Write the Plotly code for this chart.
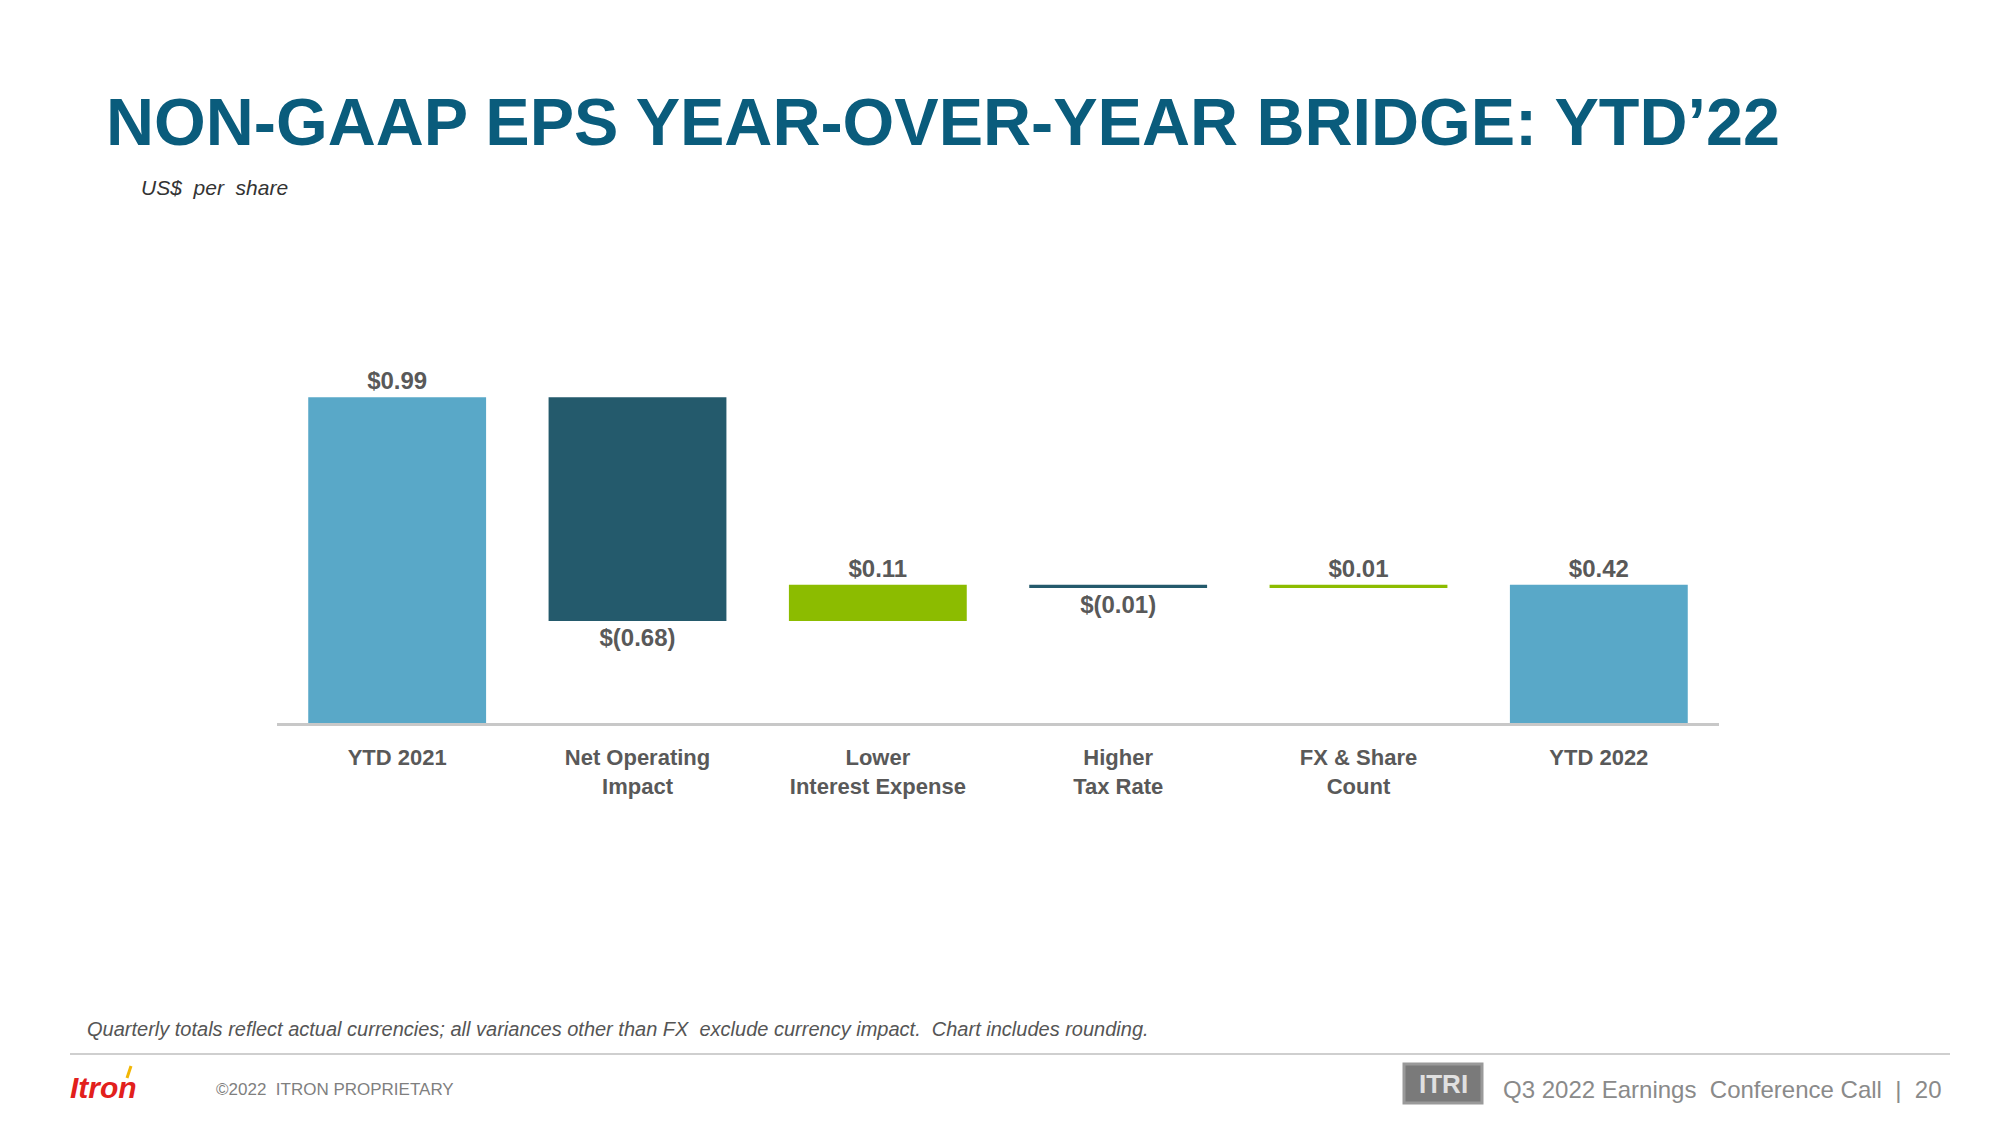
import plotly.graph_objects as go

categories = ["YTD 2021", "Net Operating<br>Impact", "Lower<br>Interest Expense",
              "Higher<br>Tax Rate", "FX & Share<br>Count", "YTD 2022"]
values = [0.99, -0.68, 0.11, -0.01, 0.01, 0.42]
measures = ["absolute", "relative", "relative", "relative", "relative", "total"]


def fmt(v):
    return f"${v:.2f}" if v >= 0 else f"$({abs(v):.2f})"


labels = [fmt(v) for v in values]

LIGHT = "#59A8C8"
DARK = "#245A6C"
GREEN = "#8CBC00"
LABEL = "#595959"
FONT = "Liberation Sans, Arial, sans-serif"

# page offset (body margin) -> figure coords
OFF = 8
W, H = 2000 - 2 * OFF, 1126 - 2 * OFF
PL, PR = 277 - OFF, 1719 - OFF      # plot area x (figure coords)
PT, PB = 328 - OFF, 723 - OFF       # plot area y (figure coords)
PW, PH = PR - PL, PB - PT

fig = go.Figure(go.Waterfall(
    x=categories,
    y=[v if m != "total" else 0 for v, m in zip(values, measures)],
    measure=measures,
    text=labels,
    textposition="outside",
    textfont=dict(family=FONT, size=24, color=LABEL, weight="bold"),
    cliponaxis=False,
    connector=dict(visible=False),
    increasing=dict(marker=dict(color=GREEN)),
    decreasing=dict(marker=dict(color=DARK)),
    totals=dict(marker=dict(color=LIGHT)),
    hoverinfo="skip",
))

fig.update_layout(
    width=W, height=H,
    margin=dict(l=PL, r=W - PR, t=PT, b=H - PB, pad=0),
    paper_bgcolor="white", plot_bgcolor="white",
    showlegend=False,
    waterfallgap=0.26,
    font=dict(family=FONT),
)
fig.update_xaxes(
    showline=True, linecolor="#C8C8C8", linewidth=3,
    showgrid=False, zeroline=False, ticks="",
    tickfont=dict(family=FONT, size=22, color=LABEL, weight="bold"),
    ticklabelstandoff=13,
)
fig.update_yaxes(range=[0, 1.2], visible=False, showgrid=False, zeroline=False)


def px(x):
    return (x - OFF - PL) / PW


def py(y):
    return (PB - (y - OFF)) / PH


def txt(x, y, s, size, color, italic=False, bold=False, xanchor="left"):
    fig.add_annotation(xref="paper", yref="paper", x=px(x), y=py(y),
                       text=s, showarrow=False, xanchor=xanchor, yanchor="middle",
                       font=dict(family=FONT, size=size, color=color,
                                 style="italic" if italic else "normal",
                                 weight="bold" if bold else "normal"))


# page coordinates below
txt(104, 122, "NON-GAAP EPS YEAR-OVER-YEAR BRIDGE: YTD’22", 66.5, "#0A5C7C", bold=True)
txt(139, 187, "US$  per  share", 21, "#333333", italic=True)
txt(85, 1029, "Quarterly totals reflect actual currencies; all variances other than FX  exclude currency impact.  Chart includes rounding.",
    20, "#555555", italic=True)
txt(214, 1089, "©2022  ITRON PROPRIETARY", 17, "#7F7F7F")
txt(1501, 1089, "Q3 2022 Earnings  Conference Call  |  20", 24, "#8A8A8A")
txt(68, 1087, "Itron", 30, "#E2201C", italic=True, bold=True)

# footer rule
fig.add_shape(type="line", xref="paper", yref="paper",
              x0=px(70), x1=px(1950), y0=py(1054), y1=py(1054),
              line=dict(color="#BFBFBF", width=1.5))
# lightning on logo
fig.add_shape(type="line", xref="paper", yref="paper",
              x0=px(131), x1=px(127), y0=py(1066), y1=py(1078),
              line=dict(color="#F2B705", width=3))
# ITRI badge (rounded)
fig.add_shape(type="rect", xref="paper", yref="paper",
              x0=px(1404), x1=px(1482), y0=py(1103), y1=py(1064),
              fillcolor="#7A7A7A", line=dict(color="#9A9A9A", width=3))
txt(1443, 1084, "ITRI", 26, "#E0E0E0", bold=True, xanchor="center")

fig.write_html("out.html")
